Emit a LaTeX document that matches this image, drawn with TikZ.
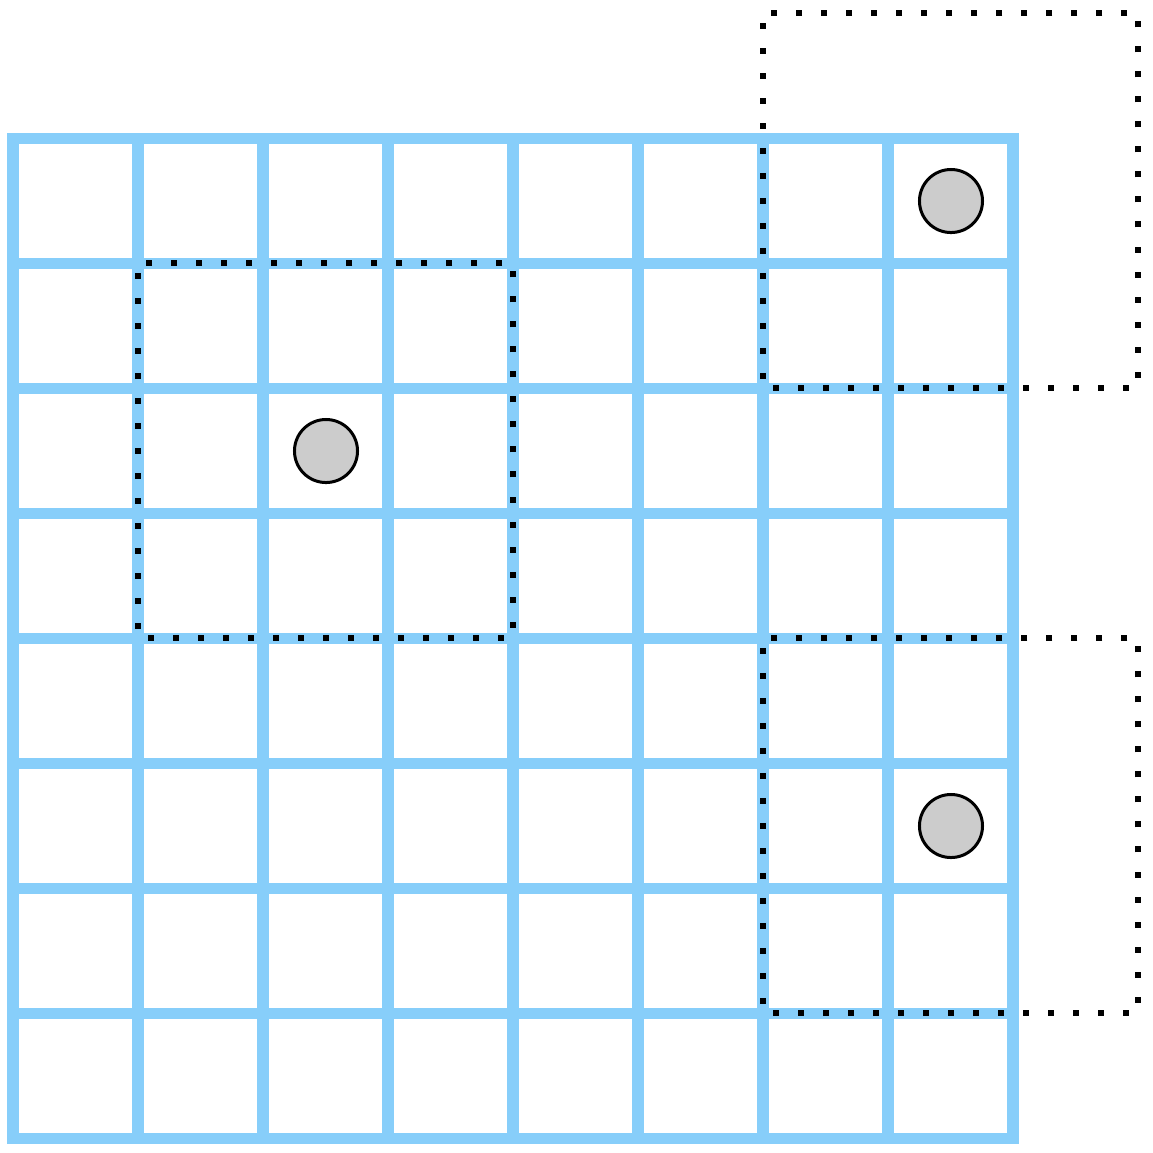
\documentclass[tikz,border=0pt]{standalone}
\usepackage{tikz}
\definecolor{gridblue}{HTML}{87CEFA}
\definecolor{ballgray}{HTML}{CCCCCC}
\tikzset{
  gridline/.style={draw=gridblue, line width=0.11cm},
  dotbox/.style={draw=black, line width=0.06cm, dash pattern=on 0.06cm off 0.19cm, dash phase=-0.1cm},
  ball/.style={circle, draw=black, line width=0.03cm, fill=ballgray, minimum size=0.63cm, inner sep=0pt}
}
\begin{document}
\begin{tikzpicture}[x=0.01cm,y=-0.01cm]
\useasboundingbox (0,0) rectangle (1153,1153);
% grid
\foreach \i in {0,...,8} {
  \draw[gridline] (13+125*\i,138) -- (13+125*\i,1138);
  \draw[gridline] (13,138+125*\i) -- (1013,138+125*\i);
}
\draw[gridline] (13,138) rectangle (1013,1138);
% dotted boxes
\draw[dotbox] (138,263) rectangle (513,638);
\draw[dotbox] (763,13) rectangle (1138,388);
\draw[dotbox] (763,638) rectangle (1138,1013);
% balls
\node[ball] (b1) at (951,201) {};
\node[ball] (b2) at (326,451) {};
\node[ball] (b3) at (951,826) {};
\end{tikzpicture}
\end{document}
